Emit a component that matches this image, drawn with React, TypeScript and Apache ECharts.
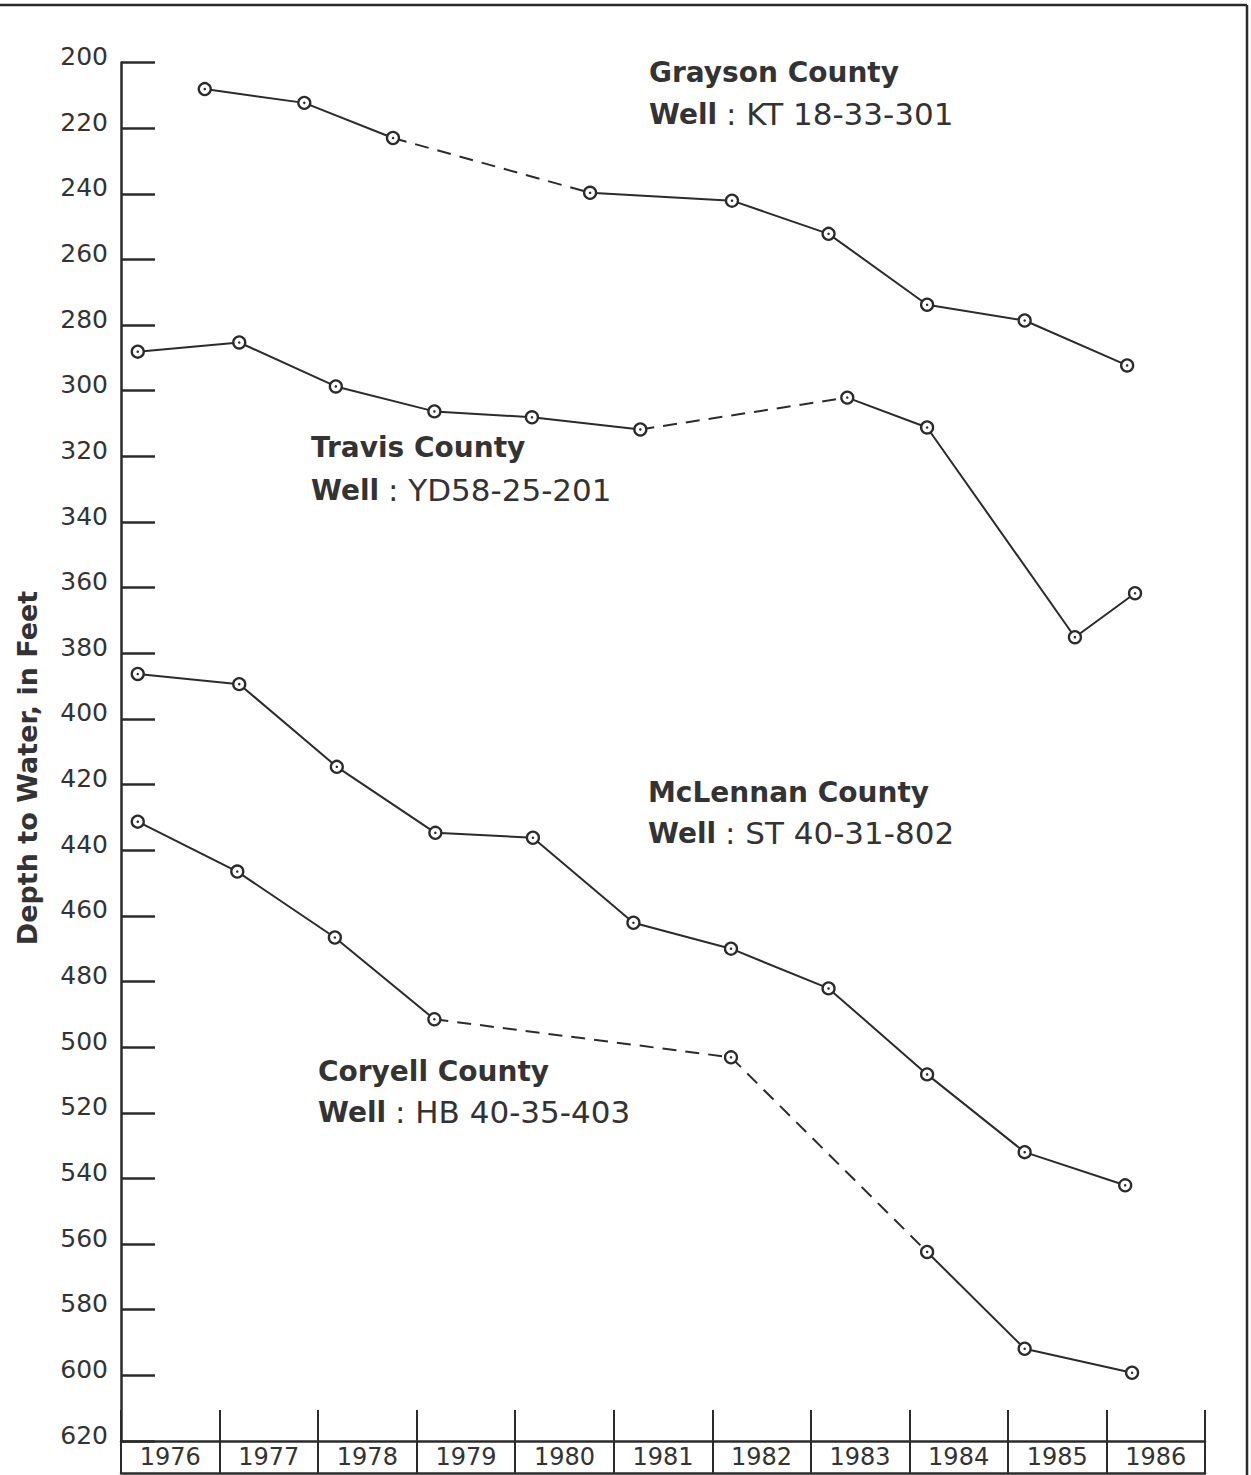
import React, { useEffect, useRef } from "react";
import * as echarts from "echarts";

// ---------- data ----------
const yearLabels = ["1976", "1977", "1978", "1979", "1980", "1981", "1982", "1983", "1984", "1985", "1986"];
const depthMin = 200;
const depthMax = 620;
const depthStep = 20;
const yAxisTitle = "Depth to Water, in Feet";

// Grayson County, Well KT 18-33-301
const graysonYears = [1976.85, 1977.86, 1978.76, 1980.76, 1982.2, 1983.18, 1984.18, 1985.17, 1986.21];
const graysonDepths = [208.1, 212.3, 223.0, 239.7, 242.1, 252.2, 273.8, 278.6, 292.3];
const graysonDashed = [2];

// Travis County, Well YD58-25-201
const travisYears = [1976.17, 1977.2, 1978.18, 1979.18, 1980.17, 1981.27, 1983.37, 1984.18, 1985.68, 1986.29];
const travisDepths = [288.1, 285.3, 298.7, 306.3, 308.1, 311.8, 302.1, 311.2, 375.1, 361.7];
const travisDashed = [5];

// McLennan County, Well ST 40-31-802
const mclennanYears = [1976.17, 1977.2, 1978.19, 1979.19, 1980.18, 1981.2, 1982.19, 1983.18, 1984.18, 1985.17, 1986.19];
const mclennanDepths = [386.3, 389.4, 414.6, 434.7, 436.2, 462.1, 470.0, 482.1, 508.3, 532.0, 542.1];
const mclennanDashed: number[] = [];

// Coryell County, Well HB 40-35-403
const coryellYears = [1976.17, 1977.18, 1978.17, 1979.18, 1982.19, 1984.18, 1985.17, 1986.26];
const coryellDepths = [431.3, 446.5, 466.6, 491.5, 503.1, 562.4, 591.9, 599.2];
const coryellDashed = [3, 4];

const INK = "#2b2b2b";
const TEXT = "#333333";

function buildSeries(name: string, xs: number[], ys: number[], dashed: number[]) {
  const segs: { d: boolean; pts: number[][] }[] = [];
  let cur: { d: boolean; pts: number[][] } | null = null;
  for (let i = 0; i < xs.length - 1; i++) {
    const d = dashed.includes(i);
    if (!cur || cur.d !== d) {
      cur = { d, pts: [[xs[i], ys[i]]] };
      segs.push(cur);
    }
    cur.pts.push([xs[i + 1], ys[i + 1]]);
  }
  const pts = xs.map((x, i) => [x, ys[i]]);
  const out: any[] = segs.map((s, k) => ({
    name: name + "-seg" + k,
    type: "line",
    xAxisIndex: 2,
    yAxisIndex: 0,
    data: s.pts,
    showSymbol: false,
    symbol: "none",
    lineStyle: { color: INK, width: 2, type: s.d ? [14, 9] : "solid" },
    z: 2,
  }));
  out.push({
    name: name + "-marker",
    type: "scatter",
    xAxisIndex: 2,
    yAxisIndex: 0,
    data: pts,
    symbol: "circle",
    symbolSize: 12,
    itemStyle: { color: "#ffffff", borderColor: INK, borderWidth: 2.3, opacity: 1 },
    z: 3,
  });
  out.push({
    name: name + "-dot",
    type: "scatter",
    xAxisIndex: 2,
    yAxisIndex: 0,
    data: pts,
    symbol: "circle",
    symbolSize: 2.5,
    itemStyle: { color: INK, opacity: 1 },
    z: 4,
  });
  return out;
}

function label(title: string, well: string, x: number, y1: number, y2: number) {
  return [
    {
      type: "text",
      x,
      y: y1,
      style: {
        text: title,
        fontSize: 28,
        fontWeight: "bold",
        fontFamily: "DejaVu Sans",
        fill: TEXT,
        verticalAlign: "middle",
        align: "left",
      },
    },
    {
      type: "text",
      x,
      y: y2,
      style: {
        text: "{b|Well} {n|: " + well + "}",
        fontSize: 28,
        fontFamily: "DejaVu Sans",
        fill: TEXT,
        verticalAlign: "middle",
        align: "left",
        rich: {
          b: { fontSize: 28, fontWeight: "bold", fontFamily: "DejaVu Sans", fill: TEXT },
          n: { fontSize: 31, fontWeight: "normal", fontFamily: "DejaVu Sans", fill: TEXT },
        },
      },
    },
  ];
}

export default function App() {
  const ref = useRef<HTMLDivElement>(null);
  useEffect(() => {
    if (!ref.current) return;
    const chart = echarts.init(ref.current, undefined, { renderer: "svg" });
    const series = [
      ...buildSeries("Grayson", graysonYears, graysonDepths, graysonDashed),
      ...buildSeries("Travis", travisYears, travisDepths, travisDashed),
      ...buildSeries("McLennan", mclennanYears, mclennanDepths, mclennanDashed),
      ...buildSeries("Coryell", coryellYears, coryellDepths, coryellDashed),
    ];
    const catAxisCommon = {
      type: "category",
      data: yearLabels,
      position: "bottom",
      boundaryGap: true,
      axisLine: { show: true, lineStyle: { color: INK, width: 2.5 } },
      splitLine: { show: false },
    };
    chart.setOption({
      animation: false,
      backgroundColor: "#ffffff",
      grid: { left: 121, right: 46, top: 62.5, bottom: 34, containLabel: false },
      xAxis: [
        {
          ...catAxisCommon,
          axisTick: { show: true, inside: true, length: 31, interval: 0, lineStyle: { color: INK, width: 2 } },
          axisLabel: {
            show: true,
            interval: 0,
            margin: 5,
            fontSize: 24,
            lineHeight: 22,
            fontFamily: "DejaVu Sans",
            color: TEXT,
          },
        },
        {
          ...catAxisCommon,
          offset: 32,
          axisTick: { show: true, inside: true, length: 32, interval: 0, lineStyle: { color: INK, width: 2 } },
          axisLabel: { show: false },
        },
        {
          type: "value",
          min: 1976,
          max: 1987,
          show: false,
        },
      ],
      yAxis: [
        {
          type: "value",
          inverse: true,
          min: depthMin,
          max: depthMax,
          interval: depthStep,
          position: "left",
          axisLine: { show: true, lineStyle: { color: INK, width: 2.5 } },
          axisTick: { show: true, inside: true, length: 34, lineStyle: { color: INK, width: 2.5 } },
          axisLabel: {
            show: true,
            margin: 13,
            fontSize: 25,
            fontFamily: "DejaVu Sans",
            color: TEXT,
            verticalAlign: "bottom",
            lineHeight: 12,
          },
          splitLine: { show: false },
        },
      ],
      series,
      graphic: [
        {
          type: "line",
          shape: { x1: 0, y1: 5, x2: 1247, y2: 5 },
          style: { stroke: INK, lineWidth: 2.5 },
        },
        {
          type: "line",
          shape: { x1: 1247, y1: 5, x2: 1247, y2: 1475 },
          style: { stroke: INK, lineWidth: 2.5 },
        },
        {
          type: "text",
          x: 27,
          y: 768,
          rotation: Math.PI / 2,
          style: {
            text: yAxisTitle,
            fontSize: 27,
            fontWeight: "bold",
            fontFamily: "DejaVu Sans",
            fill: TEXT,
            align: "center",
            verticalAlign: "middle",
          },
        },
        ...label("Grayson County", "KT 18-33-301", 649, 72, 114),
        ...label("Travis County", "YD58-25-201", 311, 447, 490),
        ...label("McLennan County", "ST 40-31-802", 648, 792, 833),
        ...label("Coryell County", "HB 40-35-403", 318, 1071, 1112),
      ],
    });
    return () => chart.dispose();
  }, []);
  return (
    <div
      ref={ref}
      style={{ position: "absolute", left: 0, top: 0, width: 1251, height: 1475, background: "#fff" }}
    />
  );
}
